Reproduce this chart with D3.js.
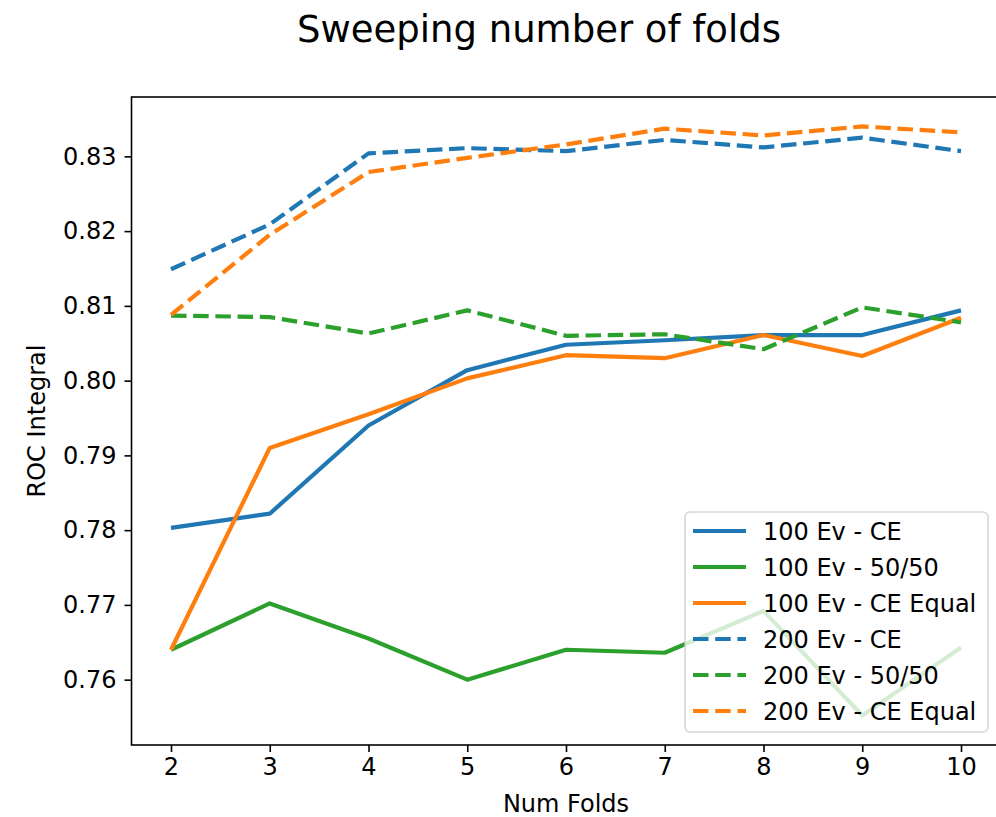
<!DOCTYPE html>
<html>
<head>
<meta charset="utf-8">
<script src="https://cdn.jsdelivr.net/npm/d3@7"></script>
<style>
  body { margin: 0; background: #fff; }
  text { font-family: "DejaVu Sans", sans-serif; fill: #000; }
</style>
</head>
<body>
<div id="chart"></div>
<script>
// Data
const folds = [2, 3, 4, 5, 6, 7, 8, 9, 10]
const ce100 = [0.7803, 0.7822, 0.7940, 0.8014, 0.8048, 0.8054, 0.8061, 0.8061, 0.8094]
const fifty100 = [0.7640, 0.7702, 0.7655, 0.7600, 0.7640, 0.7636, 0.7692, 0.7552, 0.7643]
const ceEqual100 = [0.7640, 0.7910, 0.7955, 0.8003, 0.8034, 0.8030, 0.8061, 0.8033, 0.8084]
const ce200 = [0.8149, 0.8209, 0.8304, 0.8311, 0.8307, 0.8322, 0.8312, 0.8325, 0.8307]
const fifty200 = [0.8087, 0.8085, 0.8063, 0.8094, 0.8060, 0.8062, 0.8042, 0.8098, 0.8078]
const ceEqual200 = [0.8088, 0.8195, 0.8279, 0.8298, 0.8316, 0.8337, 0.8328, 0.8340, 0.8332]
const yTicks = [0.76, 0.77, 0.78, 0.79, 0.80, 0.81, 0.82, 0.83]

const series = [
  { name: '100 Ev - CE', values: ce100, color: '#1f77b4', dashed: false },
  { name: '100 Ev - 50/50', values: fifty100, color: '#2ca02c', dashed: false },
  { name: '100 Ev - CE Equal', values: ceEqual100, color: '#ff7f0e', dashed: false },
  { name: '200 Ev - CE', values: ce200, color: '#1f77b4', dashed: true },
  { name: '200 Ev - 50/50', values: fifty200, color: '#2ca02c', dashed: true },
  { name: '200 Ev - CE Equal', values: ceEqual200, color: '#ff7f0e', dashed: true }
]

// Dimensions
const dimensions = {
  width: 996,
  height: 817,
  left: 131.5,
  right: 1000.5,
  top: 97,
  bottom: 745
}

const svg = d3.select('#chart')
  .append('svg')
  .attr('width', dimensions.width)
  .attr('height', dimensions.height)

// scales (matplotlib style 5% margins)
const xPad = (d3.max(folds) - d3.min(folds)) * 0.05
const xScale = d3.scaleLinear()
  .domain([d3.min(folds) - xPad, d3.max(folds) + xPad])
  .range([dimensions.left, dimensions.right])

const allValues = series.flatMap(s => s.values)
const [yMin, yMax] = d3.extent(allValues)
const yPad = (yMax - yMin) * 0.05
const yScale = d3.scaleLinear()
  .domain([yMin - yPad, yMax + yPad])
  .range([dimensions.bottom, dimensions.top])

// lines
const line = d3.line()
  .x((d, i) => xScale(folds[i]))
  .y(d => yScale(d))

const lineGroup = svg.append('g')

lineGroup.selectAll('path')
  .data(series)
  .join('path')
  .attr('d', d => line(d.values))
  .attr('fill', 'none')
  .attr('stroke', d => d.color)
  .attr('stroke-width', 4.2)
  .attr('stroke-dasharray', d => d.dashed ? '15.5,6.7' : null)
  .attr('stroke-linejoin', 'round')

// axes
const xAxis = d3.axisBottom(xScale)
  .tickValues(folds)
  .tickFormat(d3.format('d'))
  .tickSize(7)
  .tickPadding(6)

const yAxis = d3.axisLeft(yScale)
  .tickValues(yTicks)
  .tickFormat(d3.format('.2f'))
  .tickSize(7)
  .tickPadding(8)

const xAxisGroup = svg.append('g')
  .attr('transform', `translate(0, ${dimensions.bottom})`)
  .call(xAxis)

const yAxisGroup = svg.append('g')
  .attr('transform', `translate(${dimensions.left}, 0)`)
  .call(yAxis)

for (const g of [xAxisGroup, yAxisGroup]) {
  g.select('.domain').remove()
  g.selectAll('.tick line').attr('stroke', '#000').attr('stroke-width', 1.6)
  g.selectAll('.tick text')
    .style('font-family', '"DejaVu Sans", sans-serif')
    .style('font-size', '24px')
    .attr('fill', '#000')
}

// spines
svg.append('rect')
  .attr('x', dimensions.left)
  .attr('y', dimensions.top)
  .attr('width', dimensions.right - dimensions.left)
  .attr('height', dimensions.bottom - dimensions.top)
  .attr('fill', 'none')
  .attr('stroke', '#000')
  .attr('stroke-width', 1.6)

// labels
svg.append('text')
  .attr('x', 539)
  .attr('y', 42)
  .attr('text-anchor', 'middle')
  .style('font-size', '37px')
  .text('Sweeping number of folds')

svg.append('text')
  .attr('x', (dimensions.left + dimensions.right) / 2)
  .attr('y', 812)
  .attr('text-anchor', 'middle')
  .style('font-size', '24px')
  .text('Num Folds')

svg.append('text')
  .attr('transform', `translate(45, ${(dimensions.top + dimensions.bottom) / 2}) rotate(-90)`)
  .attr('text-anchor', 'middle')
  .style('font-size', '24px')
  .text('ROC Integral')

// legend
const legend = svg.append('g')
  .attr('transform', 'translate(685, 512)')

legend.append('rect')
  .attr('width', 303)
  .attr('height', 220)
  .attr('rx', 5)
  .attr('fill', '#fff')
  .attr('fill-opacity', 0.8)
  .attr('stroke', '#cccccc')
  .attr('stroke-opacity', 0.8)
  .attr('stroke-width', 1.6)

const rows = legend.selectAll('g.row')
  .data(series)
  .join('g')
  .classed('row', true)
  .attr('transform', (d, i) => `translate(0, ${19 + i * 36})`)

rows.append('line')
  .attr('x1', 8)
  .attr('x2', 61)
  .attr('stroke', d => d.color)
  .attr('stroke-width', 4.2)
  .attr('stroke-dasharray', d => d.dashed ? '15.5,6.7' : null)

rows.append('text')
  .attr('x', 78)
  .attr('dy', '0.36em')
  .style('font-size', '24px')
  .text(d => d.name)
</script>
</body>
</html>
